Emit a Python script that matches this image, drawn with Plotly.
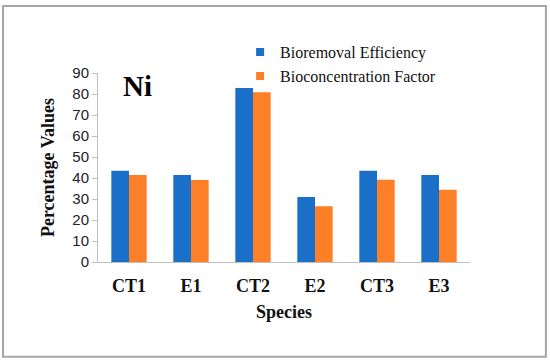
import plotly.graph_objects as go

species = ["CT1", "E1", "CT2", "E2", "CT3", "E3"]
bioremoval = [43.5, 41.4, 82.9, 31.0, 43.5, 41.4]
bioconcentration = [41.4, 39.0, 80.8, 26.5, 39.2, 34.4]
yticks = [0, 10, 20, 30, 40, 50, 60, 70, 80, 90]
series_names = ["Bioremoval Efficiency", "Bioconcentration Factor"]
colors = ["#1a70c8", "#fd7f27"]

fig = go.Figure()
for name, vals, col in zip(series_names, [bioremoval, bioconcentration], colors):
    fig.add_trace(go.Bar(x=species, y=vals, name=name, showlegend=False,
                         marker=dict(color=col, line=dict(width=0))))
# legend entries with small square keys
for name, col in zip(series_names, colors):
    fig.add_trace(go.Scatter(x=[None], y=[None], mode="markers", name=name,
                             marker=dict(symbol="square", size=8, color=col)))

serif = "Liberation Serif, Times New Roman, serif"
fig.update_layout(
    width=550, height=361,
    margin=dict(l=98, r=80, t=73, b=99, autoexpand=False),
    paper_bgcolor="white", plot_bgcolor="white",
    barmode="group", bargap=0.43, bargroupgap=0,
    showlegend=True,
    legend=dict(x=0.382, y=1.2, xanchor="left", yanchor="top",
                font=dict(family=serif, size=16, color="#111"),
                bgcolor="rgba(0,0,0,0)", tracegroupgap=0, itemwidth=30),
    xaxis=dict(title=dict(text="<b>Species</b>", font=dict(family=serif, size=18, color="#111"), standoff=10),
               tickfont=dict(family=serif, size=18, color="#111"),
               tickprefix="<b>", ticksuffix="</b>", ticklabelstandoff=7,
               showline=True, linecolor="#bfbfbf", linewidth=1, ticks="", showgrid=False),
    yaxis=dict(title=dict(text="<b>Percentage Values</b>", font=dict(family=serif, size=18, color="#111"), standoff=13),
               range=[0, 90], tickvals=yticks,
               tickfont=dict(family="Liberation Sans, Arial, sans-serif", size=15, color="#222"),
               showline=True, linecolor="#bfbfbf", linewidth=1, ticks="outside", ticklen=5,
               tickcolor="#bfbfbf", showgrid=False, zeroline=False),
    annotations=[dict(text="<b>Ni</b>", x=0.105, y=0.93, xref="paper", yref="paper",
                      xanchor="center", yanchor="middle", showarrow=False,
                      font=dict(family=serif, size=29, color="#000"))],
    shapes=[dict(type="rect", xref="paper", yref="paper", x0=-0.2554, x1=1.204, y0=-0.501, y1=1.355,
                 line=dict(color="#a6a6a6", width=2), fillcolor="rgba(0,0,0,0)")],
)

fig.write_html("out.html", config={"displayModeBar": False},
               post_script="document.body.style.margin='0';")
